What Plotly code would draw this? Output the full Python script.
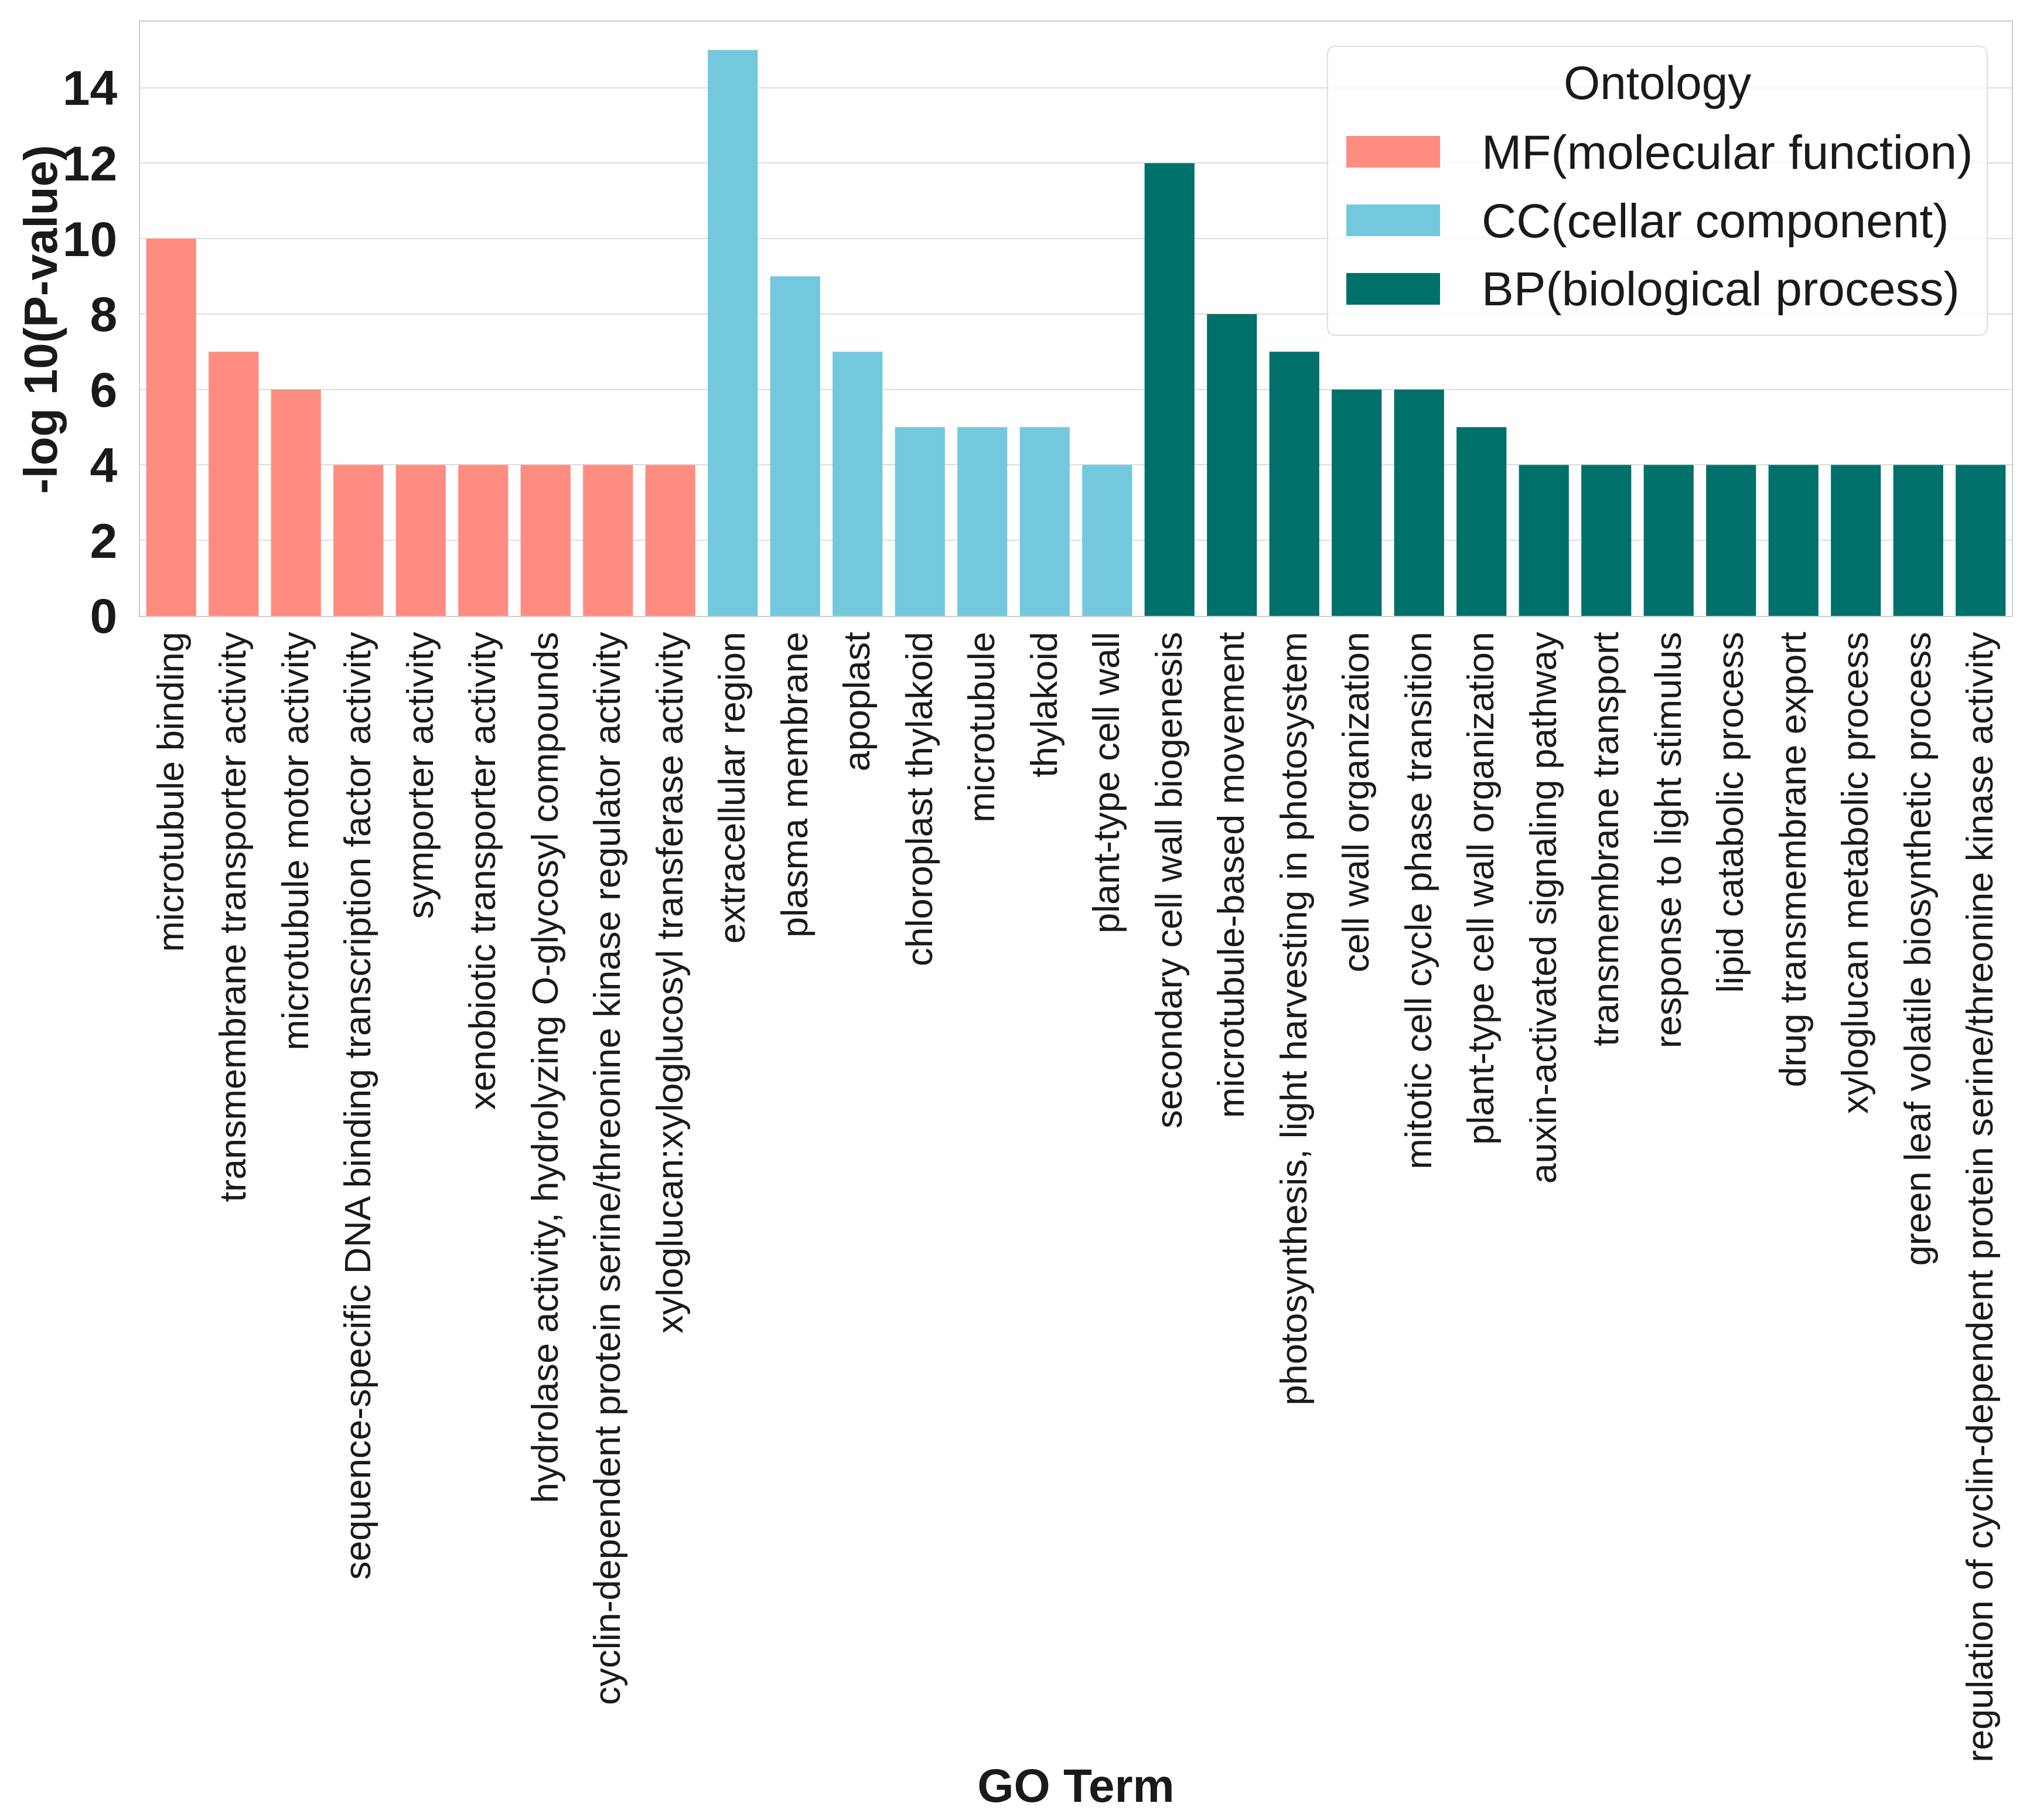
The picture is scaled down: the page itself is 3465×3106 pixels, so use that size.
import plotly.graph_objs as go

# GO terms and -log10(P-value) per ontology
mf_terms = ['microtubule binding', 'transmembrane transporter activity', 'microtubule motor activity',
            'sequence-specific DNA binding transcription factor activity', 'symporter activity',
            'xenobiotic transporter activity', 'hydrolase activity, hydrolyzing O-glycosyl compounds',
            'cyclin-dependent protein serine/threonine kinase regulator activity',
            'xyloglucan:xyloglucosyl transferase activity']
mf_values = [10, 7, 6, 4, 4, 4, 4, 4, 4]

cc_terms = ['extracellular region', 'plasma membrane', 'apoplast', 'chloroplast thylakoid',
            'microtubule', 'thylakoid', 'plant-type cell wall']
cc_values = [15, 9, 7, 5, 5, 5, 4]

bp_terms = ['secondary cell wall biogenesis', 'microtubule-based movement',
            'photosynthesis, light harvesting in photosystem', 'cell wall organization',
            'mitotic cell cycle phase transition', 'plant-type cell wall organization',
            'auxin-activated signaling pathway', 'transmembrane transport', 'response to light stimulus',
            'lipid catabolic process', 'drug transmembrane export', 'xyloglucan metabolic process',
            'green leaf volatile biosynthetic process',
            'regulation of cyclin-dependent protein serine/threonine kinase activity']
bp_values = [12, 8, 7, 6, 6, 5, 4, 4, 4, 4, 4, 4, 4, 4]

ontology_names = ['MF(molecular function)', 'CC(cellar component)', 'BP(biological process)']
ontology_colors = ['#FF8C80', '#74C8DE', '#00706B']

y_ticks = [0, 2, 4, 6, 8, 10, 12, 14]

FONT = 'Liberation Sans, Arial, sans-serif'

data = []
for terms, vals, name, col in zip([mf_terms, cc_terms, bp_terms], [mf_values, cc_values, bp_values],
                                  ontology_names, ontology_colors):
    data.append(go.Bar(x=terms, y=vals, name=name, marker=dict(color=col, line=dict(width=0)),
                       width=0.8, showlegend=False))

# plot area in pixels (page coords; the page body adds an 8px offset)
W, H = 3465, 3106
OFF = 8
L, R, T, B = 239, 3434, 37, 1051


def px(x):
    return (x - L) / (R - L)


def py(y):
    return (B - y) / (B - T)


# legend box with rounded corners
x0, x1, y0, y1 = px(2266), px(3392), py(572), py(79)
rx, ry = 14 / (R - L), 14 / (B - T)
box = ('M {a},{t} L {b},{t} Q {x1},{t} {x1},{c} L {x1},{d} Q {x1},{y0} {b},{y0} '
       'L {a},{y0} Q {x0},{y0} {x0},{d} L {x0},{c} Q {x0},{t} {a},{t} Z').format(
    a=x0 + rx, b=x1 - rx, t=y1, c=y1 - ry, d=y0 + ry, x0=x0, x1=x1, y0=y0)

shapes = [dict(type='path', xref='paper', yref='paper', path=box, layer='above',
               fillcolor='rgba(255,255,255,0.8)', line=dict(color='#dddddd', width=2))]
annotations = [dict(text='Ontology', xref='paper', yref='paper', x=px(2829), y=py(142),
                    xanchor='center', yanchor='middle', showarrow=False,
                    font=dict(family=FONT, size=80, color='#1a1a1a'))]
row_centers = [259, 376, 493]
for name, col, yc in zip(ontology_names, ontology_colors, row_centers):
    shapes.append(dict(type='rect', xref='paper', yref='paper', layer='above',
                       x0=px(2298), x1=px(2458), y0=py(yc + 27), y1=py(yc - 27),
                       fillcolor=col, line=dict(width=0)))
    annotations.append(dict(text=name, xref='paper', yref='paper', x=px(2527), y=py(yc),
                            xanchor='left', yanchor='middle', showarrow=False,
                            font=dict(family=FONT, size=82, color='#1a1a1a')))

# y axis title, placed by hand (plotly keeps it too far from the tick labels)
annotations.append(dict(text='-log 10(P-value)', xref='paper', yref='paper', x=px(69), y=py(545),
                        xanchor='center', yanchor='middle', textangle=-90, showarrow=False,
                        font=dict(family=FONT, size=80, weight='bold', color='#1a1a1a')))

all_terms = mf_terms + cc_terms + bp_terms

layout = go.Layout(
    width=W, height=H,
    margin=dict(l=L - OFF, r=W - R + OFF, t=T - OFF, b=H - B + OFF, autoexpand=False),
    paper_bgcolor='white', plot_bgcolor='white',
    barmode='overlay',
    font=dict(family=FONT, color='#1a1a1a'),
    xaxis=dict(categoryorder='array', categoryarray=all_terms, range=[-0.5, len(all_terms) - 0.5],
               tickangle=-90, tickfont=dict(size=63, color='#1a1a1a'), ticks='', ticklabelstandoff=0,
               showgrid=False, showline=True, mirror=True, linecolor='#cccccc', linewidth=2,
               title=dict(text='GO Term', font=dict(size=80, weight='bold', color='#1a1a1a'), standoff=12),
               automargin=False),
    yaxis=dict(range=[0, 15.75], tickvals=y_ticks, tickfont=dict(size=84, weight='bold', color='#1a1a1a'),
               ticks='', ticklabelstandoff=20, showgrid=True, gridcolor='#dddddd', gridwidth=2,
               zeroline=False, showline=True, mirror=True, linecolor='#cccccc', linewidth=2,
               automargin=False),
    shapes=shapes,
    annotations=annotations,
)

fig = go.Figure(data=data, layout=layout)
fig.write_html("out.html")
